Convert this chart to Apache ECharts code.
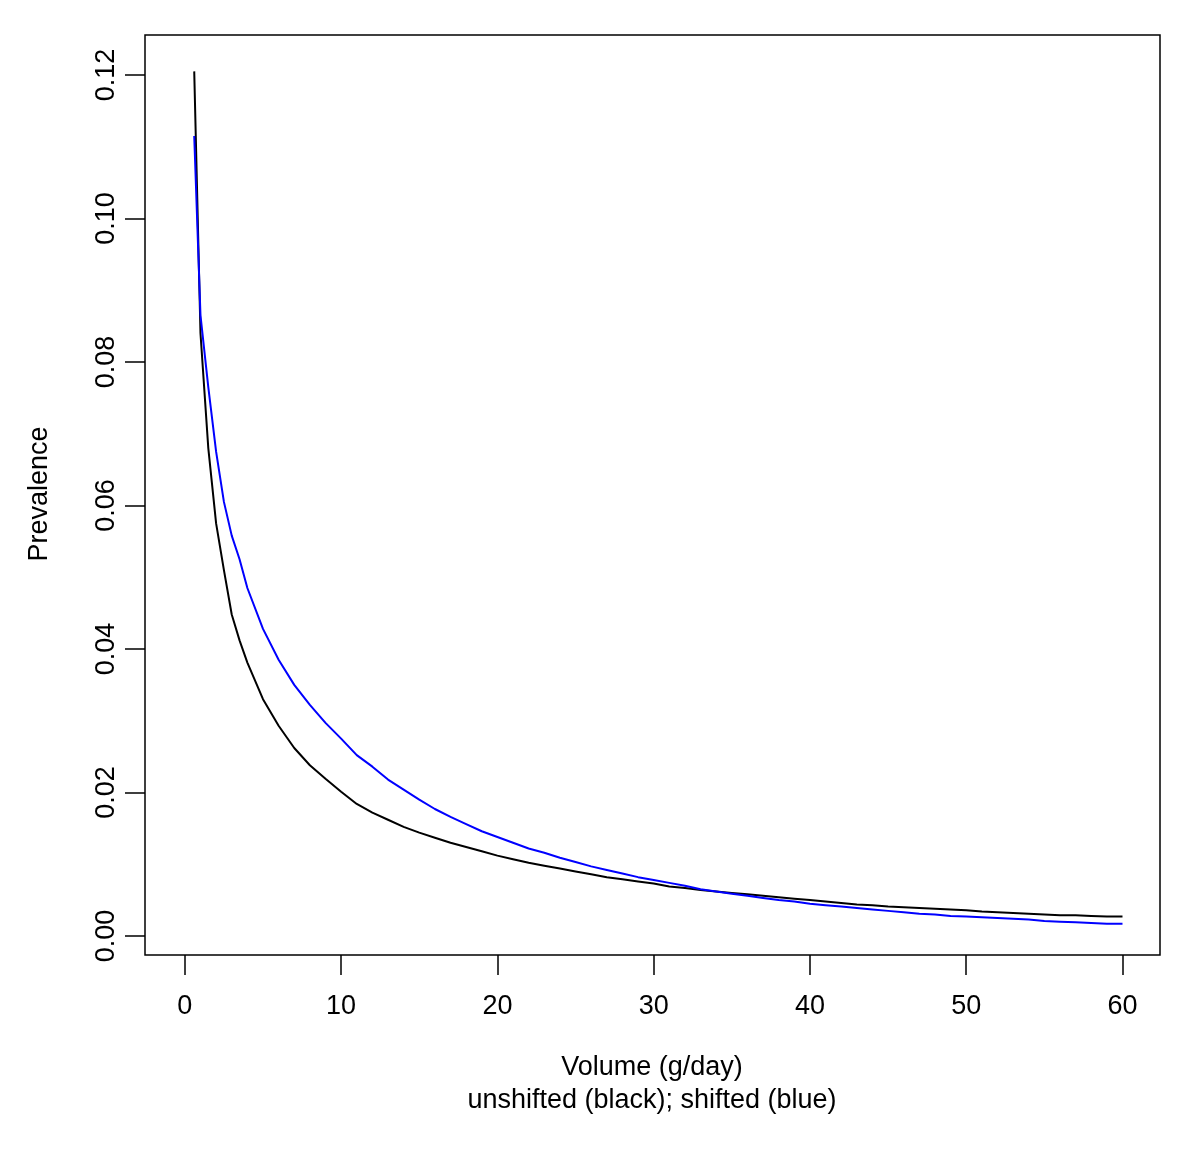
<!DOCTYPE html>
<html>
<head>
<meta charset="utf-8">
<script src="https://cdn.jsdelivr.net/npm/echarts@6/dist/echarts.min.js"></script>
<style>
  html, body { margin: 0; padding: 0; background: #fff; }
  #chart { width: 1200px; height: 1149px; }
</style>
</head>
<body>
<div id="chart"></div>
<script>
// Volume (g/day)
const volume = [0.6, 1.0, 1.5, 2.0, 2.5, 3.0, 3.5, 4, 5, 6, 7, 8, 9, 10,
  11, 12, 13, 14, 15, 16, 17, 18, 19, 20, 21, 22, 23, 24, 25, 26, 27, 28, 29, 30,
  31, 32, 33, 34, 35, 36, 37, 38, 39, 40, 41, 42, 43, 44, 45, 46, 47, 48, 49, 50,
  51, 52, 53, 54, 55, 56, 57, 58, 59, 60];

// unshifted (black)
const unshifted = [0.1205, 0.084, 0.068, 0.0575, 0.051, 0.0448, 0.0412, 0.0381, 0.0330, 0.0293,
  0.0262, 0.0238, 0.0219, 0.0201, 0.0184, 0.0172, 0.0162, 0.0152, 0.0144, 0.0137,
  0.0130, 0.0124, 0.0118, 0.0112, 0.0107, 0.0102, 0.0098, 0.0094, 0.0090, 0.0086,
  0.0082, 0.0079, 0.0076, 0.0073, 0.0069, 0.0067, 0.0064, 0.0062, 0.0060, 0.0058,
  0.0056, 0.0054, 0.0052, 0.0050, 0.0048, 0.0046, 0.0044, 0.0043, 0.0041, 0.0040,
  0.0039, 0.0038, 0.0037, 0.0036, 0.0034, 0.0033, 0.0032, 0.0031, 0.0030, 0.0029,
  0.0029, 0.0028, 0.0027, 0.0027];

// shifted (blue)
const shifted = [0.1115, 0.0865, 0.0765, 0.0675, 0.0605, 0.0558, 0.0525, 0.0485, 0.0428, 0.0385,
  0.0350, 0.0322, 0.0297, 0.0275, 0.0252, 0.0236, 0.0218, 0.0204, 0.0190, 0.0177,
  0.0166, 0.0156, 0.0146, 0.0138, 0.0130, 0.0122, 0.0116, 0.0109, 0.0103, 0.0097,
  0.0092, 0.0087, 0.0082, 0.0078, 0.0074, 0.0070, 0.0065, 0.0062, 0.0059, 0.0056,
  0.0053, 0.0050, 0.0048, 0.0045, 0.0043, 0.0041, 0.0039, 0.0037, 0.0035, 0.0033,
  0.0031, 0.0030, 0.0028, 0.0027, 0.0026, 0.0025, 0.0024, 0.0023, 0.0021, 0.0020,
  0.0019, 0.0018, 0.0017, 0.0017];

const xTicks = [0, 10, 20, 30, 40, 50, 60];
const yTicks = [0, 0.02, 0.04, 0.06, 0.08, 0.10, 0.12];

const xTitle = 'Volume (g/day)';
const xSubtitle = 'unshifted (black); shifted (blue)';
const yTitle = 'Prevalence';

const FONT = '"Liberation Sans", Arial, Helvetica, sans-serif';
const FS = 27;

const pair = (xs, ys) => xs.map((x, i) => [x, ys[i]]);

const chart = echarts.init(document.getElementById('chart'), null, { renderer: 'canvas' });
chart.setOption({
  backgroundColor: '#ffffff',
  animation: false,
  grid: {
    left: 145, top: 35, right: 40, bottom: 194,
    show: true, borderColor: '#000', borderWidth: 1.5, backgroundColor: 'transparent'
  },
  xAxis: {
    type: 'value',
    min: -2.55, max: 62.4,
    axisLine: { show: false, onZero: false },
    splitLine: { show: false },
    axisTick: { show: true, inside: false, length: 20, customValues: xTicks,
      lineStyle: { color: '#000', width: 1.5 } },
    axisLabel: { show: true, customValues: xTicks, margin: 38, color: '#000',
      fontSize: FS, fontFamily: FONT, formatter: v => String(v) }
  },
  yAxis: {
    type: 'value',
    min: -0.00265, max: 0.12557,
    axisLine: { show: false, onZero: false },
    splitLine: { show: false },
    axisTick: { show: true, inside: false, length: 20, customValues: yTicks,
      lineStyle: { color: '#000', width: 1.5 } },
    axisLabel: { show: true, customValues: yTicks, margin: 25, rotate: 90, color: '#000',
      fontSize: FS, fontFamily: FONT, formatter: v => v.toFixed(2) }
  },
  series: [
    { type: 'line', data: pair(volume, unshifted), showSymbol: false, symbol: 'none',
      lineStyle: { color: '#000000', width: 2 }, z: 3 },
    { type: 'line', data: pair(volume, shifted), showSymbol: false, symbol: 'none',
      lineStyle: { color: '#0000ff', width: 2 }, z: 4 }
  ],
  graphic: [
    { type: 'text', x: 652, y: 1068, style: { text: xTitle, align: 'center', verticalAlign: 'middle',
      fontSize: FS, fontFamily: FONT, fill: '#000' } },
    { type: 'text', x: 652, y: 1101, style: { text: xSubtitle, align: 'center', verticalAlign: 'middle',
      fontSize: FS, fontFamily: FONT, fill: '#000' } },
    { type: 'text', x: 40, y: 494, rotation: Math.PI / 2, style: { text: yTitle, align: 'center',
      verticalAlign: 'middle', fontSize: FS, fontFamily: FONT, fill: '#000' } }
  ]
});
</script>
</body>
</html>
